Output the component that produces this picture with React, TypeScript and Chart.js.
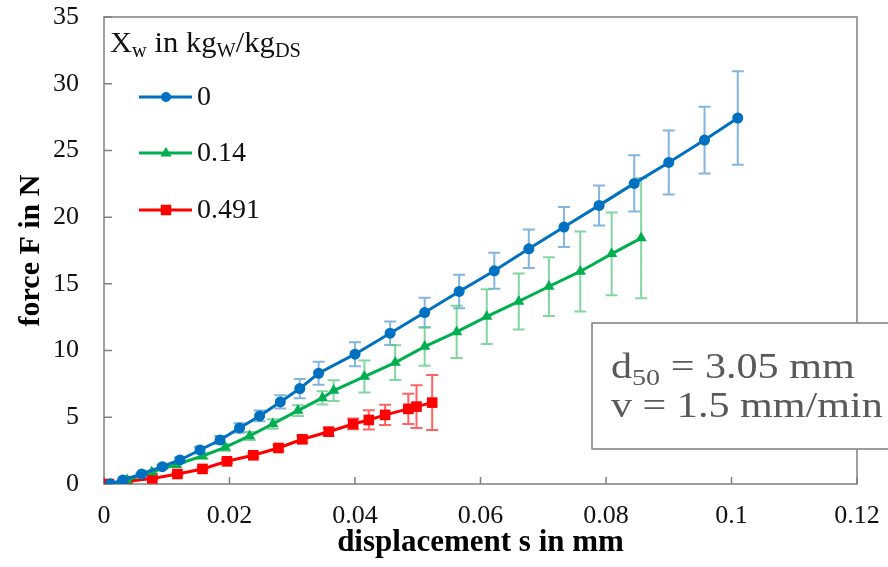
import { useEffect, useRef } from 'react';
import { Chart, registerables } from 'chart.js';

Chart.register(...registerables);

const seriesLabels = ['0', '0.14', '0.491'];

const xBlue = [0.0010, 0.0030, 0.0060, 0.0093, 0.0121, 0.0153, 0.0185, 0.0216, 0.0248, 0.0281, 0.0312, 0.0342, 0.0400, 0.0456, 0.0511, 0.0566, 0.0622, 0.0677, 0.0733, 0.0789, 0.0845, 0.0900, 0.0957, 0.1010];
const yBlue = [0.0, 0.3, 0.75, 1.3, 1.8, 2.55, 3.3, 4.2, 5.1, 6.15, 7.15, 8.3, 9.73, 11.3, 12.85, 14.43, 15.98, 17.63, 19.26, 20.88, 22.53, 24.1, 25.78, 27.43];
const eBlue = [0, 0.05, 0.1, 0.15, 0.2, 0.25, 0.3, 0.35, 0.4, 0.5, 0.72, 0.86, 0.9, 0.88, 1.1, 1.26, 1.35, 1.44, 1.5, 1.5, 2.1, 2.4, 2.5, 3.5];

const xGreen = [0.0010, 0.0037, 0.0076, 0.0115, 0.0157, 0.0193, 0.0232, 0.0269, 0.0309, 0.0348, 0.0366, 0.0415, 0.0464, 0.0511, 0.0562, 0.0610, 0.0661, 0.0709, 0.0759, 0.0809, 0.0856];
const yGreen = [0.0, 0.3, 0.9, 1.45, 2.1, 2.75, 3.6, 4.5, 5.5, 6.45, 7.0, 8.05, 9.1, 10.3, 11.4, 12.55, 13.68, 14.8, 15.93, 17.25, 18.43];
const eGreen = [0, 0.05, 0.1, 0.15, 0.2, 0.25, 0.3, 0.35, 0.4, 0.5, 0.78, 1.2, 1.3, 1.43, 1.96, 2.05, 2.1, 2.2, 3.0, 3.1, 4.5];

const xRed = [0.0008, 0.0037, 0.0077, 0.0117, 0.0157, 0.0196, 0.0238, 0.0278, 0.0316, 0.0358, 0.0397, 0.0422, 0.0448, 0.0485, 0.0498, 0.0523];
const yRed = [0.0, 0.2, 0.42, 0.75, 1.13, 1.7, 2.15, 2.7, 3.35, 3.92, 4.5, 4.8, 5.18, 5.63, 5.8, 6.1];
const eRed = [0, 0.05, 0.05, 0.1, 0.1, 0.15, 0.15, 0.2, 0.25, 0.3, 0.4, 0.72, 0.76, 1.13, 1.6, 2.06];

const xTickValues = [0, 0.02, 0.04, 0.06, 0.08, 0.1, 0.12];
const xTickLabels = ['0', '0.02', '0.04', '0.06', '0.08', '0.1', '0.12'];
const yTickValues = [0, 5, 10, 15, 20, 25, 30, 35];
const yTickLabels = ['0', '5', '10', '15', '20', '25', '30', '35'];

const SERIF = 'Liberation Serif';

function toPoints(xs: number[], ys: number[]) {
  return xs.map((x, i) => ({ x, y: ys[i] }));
}

function drawMarker(ctx: CanvasRenderingContext2D, style: string, x: number, y: number, r: number, color: string) {
  ctx.save();
  ctx.fillStyle = color;
  ctx.beginPath();
  if (style === 'circle') {
    ctx.arc(x, y, r, 0, Math.PI * 2);
  } else if (style === 'triangle') {
    ctx.moveTo(x, y - r);
    ctx.lineTo(x + r * 0.95, y + r * 0.6);
    ctx.lineTo(x - r * 0.95, y + r * 0.6);
    ctx.closePath();
  } else {
    ctx.rect(x - r * 0.75, y - r * 0.75, r * 1.5, r * 1.5);
  }
  ctx.fill();
  ctx.restore();
}

function drawRuns(ctx: CanvasRenderingContext2D, x: number, y: number, runs: { t: string; size: number; dy: number }[], color: string, scaleX = 1) {
  let cx = 0;
  ctx.save();
  ctx.translate(x, y);
  ctx.scale(scaleX, 1);
  ctx.fillStyle = color;
  ctx.textBaseline = 'alphabetic';
  ctx.textAlign = 'left';
  for (const r of runs) {
    ctx.font = `${r.size}px "${SERIF}"`;
    ctx.fillText(r.t, cx, r.dy);
    cx += ctx.measureText(r.t).width;
  }
  ctx.restore();
}

const customPlugin = {
  id: 'customDecor',
  beforeDatasetsDraw(chart: any) {
    const { ctx, chartArea } = chart;
    const xs = chart.scales.x;
    const ys = chart.scales.y;
    ctx.save();
    ctx.strokeStyle = '#808080';
    ctx.lineWidth = 1.5;
    ctx.strokeRect(chartArea.left, chartArea.top, chartArea.right - chartArea.left, chartArea.bottom - chartArea.top);
    ctx.beginPath();
    xTickValues.forEach((v) => {
      const px = xs.getPixelForValue(v);
      ctx.moveTo(px, chartArea.bottom);
      ctx.lineTo(px, chartArea.bottom - 7);
    });
    yTickValues.forEach((v) => {
      const py = ys.getPixelForValue(v);
      ctx.moveTo(chartArea.left, py);
      ctx.lineTo(chartArea.left + 8, py);
    });
    ctx.stroke();
    ctx.restore();

    chart.data.datasets.forEach((ds: any) => {
      ctx.save();
      ctx.strokeStyle = ds.errorColor;
      ctx.lineWidth = 2;
      ctx.beginPath();
      ds.data.forEach((p: any, i: number) => {
        const e = ds.errors[i];
        if (!e) return;
        const px = xs.getPixelForValue(p.x);
        const top = ys.getPixelForValue(p.y + e);
        const bot = ys.getPixelForValue(p.y - e);
        ctx.moveTo(px, top);
        ctx.lineTo(px, bot);
        ctx.moveTo(px - 6, top);
        ctx.lineTo(px + 6, top);
        ctx.moveTo(px - 6, bot);
        ctx.lineTo(px + 6, bot);
      });
      ctx.stroke();
      ctx.restore();
    });
  },
  afterDraw(chart: any) {
    const { ctx, chartArea } = chart;
    const L = chartArea.left;
    const T = chartArea.top;
    drawRuns(ctx, L + 6, T + 35, [
      { t: 'X', size: 30, dy: 0 },
      { t: 'w', size: 20, dy: 5 },
      { t: ' in kg', size: 30, dy: 0 },
      { t: 'W', size: 20, dy: 5 },
      { t: '/kg', size: 30, dy: 0 },
      { t: 'DS', size: 20, dy: 5 },
    ], '#111', 1.02);
    const rows = [T + 80, T + 136, T + 193];
    chart.data.datasets.forEach((ds: any, i: number) => {
      const y = rows[i];
      ctx.save();
      ctx.strokeStyle = ds.borderColor;
      ctx.lineWidth = 3;
      ctx.beginPath();
      ctx.moveTo(L + 35, y);
      ctx.lineTo(L + 88, y);
      ctx.stroke();
      ctx.restore();
      drawMarker(ctx, ds.pointStyle, L + 62, y, ds.pointStyle === 'rect' ? 7 : ds.pointStyle === 'triangle' ? 6 : 5, ds.borderColor);
      ctx.save();
      ctx.fillStyle = '#111';
      ctx.font = `28px "${SERIF}"`;
      ctx.textBaseline = 'middle';
      ctx.textAlign = 'left';
      ctx.fillText(seriesLabels[i], L + 93, y + 1);
      ctx.restore();
    });
    ctx.save();
    ctx.fillStyle = '#ffffff';
    ctx.strokeStyle = '#7f7f7f';
    ctx.lineWidth = 1.5;
    ctx.fillRect(592, 323, 320, 126);
    ctx.strokeRect(592, 323, 320, 126);
    ctx.restore();
    drawRuns(ctx, 611, 378, [
      { t: 'd', size: 36, dy: 0 },
      { t: '50', size: 24, dy: 7 },
      { t: ' = 3.05 mm', size: 36, dy: 0 },
    ], '#595959', 1.17);
    drawRuns(ctx, 611, 417, [{ t: 'v = 1.5 mm/min', size: 36, dy: 0 }], '#595959', 1.17);
  },
};

export default function App() {
  const canvasRef = useRef<HTMLCanvasElement | null>(null);

  useEffect(() => {
    if (!canvasRef.current) return;
    const chart = new Chart(canvasRef.current, {
      type: 'line',
      data: {
        datasets: [
          {
            label: seriesLabels[0],
            data: toPoints(xBlue, yBlue),
            borderColor: '#0070C0',
            backgroundColor: '#0070C0',
            borderWidth: 3,
            pointStyle: 'circle',
            pointRadius: 5.5,
            pointBorderWidth: 0,
            tension: 0,
            errors: eBlue,
            errorColor: 'rgba(91,155,213,0.75)',
          } as any,
          {
            label: seriesLabels[1],
            data: toPoints(xGreen, yGreen),
            borderColor: '#00B050',
            backgroundColor: '#00B050',
            borderWidth: 3,
            pointStyle: 'triangle',
            pointRadius: 6.5,
            pointBorderWidth: 0,
            tension: 0,
            errors: eGreen,
            errorColor: 'rgba(90,200,130,0.75)',
          } as any,
          {
            label: seriesLabels[2],
            data: toPoints(xRed, yRed),
            borderColor: '#FF0000',
            backgroundColor: '#FF0000',
            borderWidth: 3,
            pointStyle: 'rect',
            pointRadius: 7.5,
            pointBorderWidth: 0,
            tension: 0,
            errors: eRed,
            errorColor: 'rgba(255,60,60,0.8)',
          } as any,
        ],
      },
      options: {
        responsive: false,
        animation: false,
        layout: { autoPadding: false, padding: { left: 0, right: 31, top: 17, bottom: 0 } },
        plugins: {
          legend: { display: false },
          tooltip: { enabled: false },
        },
        scales: {
          x: {
            type: 'linear',
            min: 0,
            max: 0.12,
            afterBuildTicks: (s: any) => {
              s.ticks = xTickValues.map((v) => ({ value: v }));
            },
            afterFit: (s: any) => {
              s.height = 83;
            },
            ticks: {
              callback: (_v: any, i: number) => xTickLabels[i],
              font: { family: SERIF, size: 26 },
              color: '#111',
              padding: 0,
              maxRotation: 0,
              autoSkip: false,
            },
            grid: { display: false, drawTicks: true, tickLength: 17 },
            border: { display: false },
            title: {
              display: true,
              text: 'displacement s in mm',
              font: { family: SERIF, size: 31, weight: 'bold' },
              color: '#000',
              padding: { top: 0, bottom: 5 },
            },
          },
          y: {
            type: 'linear',
            min: 0,
            max: 35,
            afterBuildTicks: (s: any) => {
              s.ticks = yTickValues.map((v) => ({ value: v }));
            },
            afterFit: (s: any) => {
              s.width = 104;
            },
            ticks: {
              callback: (_v: any, i: number) => yTickLabels[i],
              font: { family: SERIF, size: 26 },
              color: '#111',
              padding: 0,
              autoSkip: false,
            },
            grid: { display: false, drawTicks: true, tickLength: 25 },
            border: { display: false },
            title: {
              display: true,
              text: 'force F in N',
              font: { family: SERIF, size: 30, weight: 'bold' },
              color: '#000',
              padding: { top: 13, bottom: 0 },
            },
          },
        },
      } as any,
      plugins: [customPlugin as any],
    });
    return () => chart.destroy();
  }, []);

  return (
    <div style={{ position: 'fixed', left: 0, top: 0, width: 888, height: 567, background: '#fff' }}>
      <canvas ref={canvasRef} width={888} height={567} style={{ display: 'block', width: 888, height: 567 }} />
    </div>
  );
}
